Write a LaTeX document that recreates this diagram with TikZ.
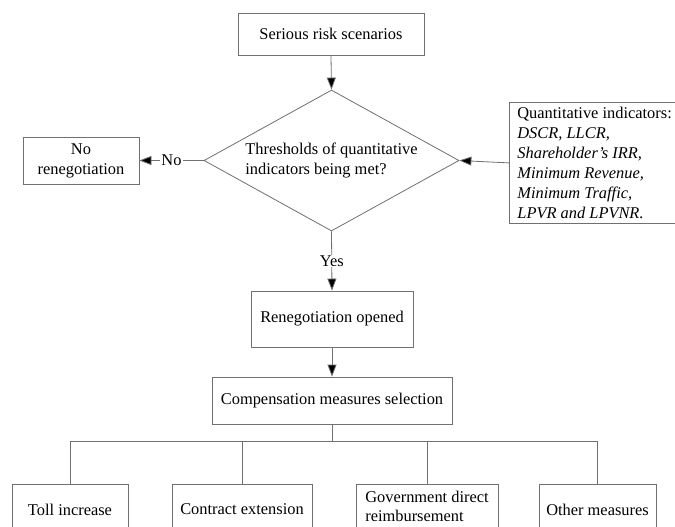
\documentclass[tikz,border=0pt]{standalone}
\usepackage{fontspec}
\setmainfont{Liberation Serif}
\usetikzlibrary{arrows.meta,shapes.geometric}
\definecolor{linegray}{HTML}{707070}
\begin{document}
\begin{tikzpicture}[x=1pt,y=-1pt,
  every node/.style={font=\fontsize{16.4}{20}\selectfont, text=black},
  box/.style={draw=linegray, line width=0.8pt, rectangle, inner sep=0pt, align=center},
  conn/.style={draw=linegray, line width=0.8pt},
  arr/.style={conn, -{Triangle[length=12pt,width=9pt,fill=black]}},
  lbl/.style={fill=white, inner sep=1pt}]
\useasboundingbox (0,0) rectangle (675,527);
\clip (0,0) rectangle (675,527);
\fill[white] (0,0) rectangle (675,527);

\node[box, minimum width=186pt, minimum height=42pt] (top) at (331,34) {Serious risk scenarios};
\node[draw=linegray, line width=0.8pt, diamond, aspect=2, inner sep=0pt,
      minimum width=255pt, minimum height=141pt, align=left] (q) at (331.5,160.5)
      {Thresholds of quantitative\\indicators being met?};
\node[box, minimum width=116pt, minimum height=47pt] (no) at (81,160.5) {No\\renegotiation};
\node[box, anchor=north west, minimum width=166pt, minimum height=121pt,
      inner xsep=8pt, align=left] (ind) at (509,102)
      {Quantitative indicators:\\\textit{DSCR, LLCR,}\\\textit{Shareholder's IRR,}\\\textit{Minimum Revenue,}\\\textit{Minimum Traffic,}\\\textit{LPVR and LPVNR.}};
\node[box, minimum width=162pt, minimum height=56pt] (reo) at (332,319) {Renegotiation opened};
\node[box, minimum width=240pt, minimum height=47pt] (comp) at (332,400.5) {Compensation measures selection};

\node[box, anchor=north, minimum width=116pt, minimum height=50pt] (toll) at (70,484) {Toll increase};
\node[box, anchor=north, minimum width=140pt, minimum height=50pt] (ext) at (242,484) {Contract extension};
\node[box, anchor=north, minimum width=142pt, minimum height=44pt, align=left, font=\fontsize{16.4}{19.5}\selectfont] (gov) at (427,484) {Government direct\\reimbursement};
\node[box, anchor=north, minimum width=117pt, minimum height=50pt] (oth) at (597.5,484) {Other measures};

\draw[arr] (top.south) -- (q.north);
\draw[arr] (q.west) -- node[lbl] {No} (no.east);
\draw[arr] (ind.west) -- (q.east);
\draw[arr] (q.south) -- node[lbl, pos=0.5] {Yes} (reo.north);
\draw[arr] (reo.south) -- (comp.north);

\coordinate (j) at (332,441.5);
\draw[conn] (comp.south) -- (j);
\draw[conn] (j) -| (toll.north);
\draw[conn] (j) -| (ext.north);
\draw[conn] (j) -| (gov.north);
\draw[conn] (j) -| (oth.north);
\end{tikzpicture}
\end{document}
